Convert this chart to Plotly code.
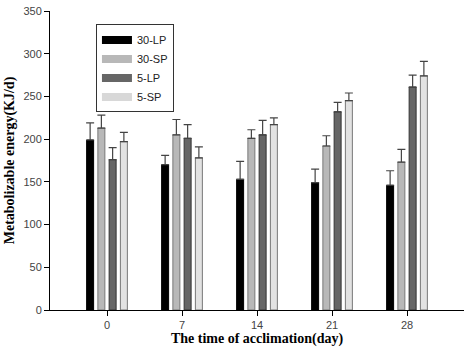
import plotly.graph_objects as go

days = ["0", "7", "14", "21", "28"]
series_names = ["30-LP", "30-SP", "5-LP", "5-SP"]
means = {
    "30-LP": [199, 170, 153, 149, 146],
    "30-SP": [213, 205, 201, 192, 173],
    "5-LP": [176, 201, 205, 232, 261],
    "5-SP": [197, 178, 217, 245, 274],
}
errors = {
    "30-LP": [20, 11, 21, 16, 17],
    "30-SP": [15, 18, 10, 12, 15],
    "5-LP": [14, 16, 17, 11, 14],
    "5-SP": [11, 13, 8, 9, 17],
}
colors = {"30-LP": "#000000", "30-SP": "#b8b8b8", "5-LP": "#666666", "5-SP": "#e2e2e2"}
outline = {"30-LP": "#000000", "30-SP": "#777777", "5-LP": "#333333", "5-SP": "#777777"}

fig = go.Figure()
for s in series_names:
    fig.add_trace(go.Bar(
        name=s, x=days, y=means[s], showlegend=False,
        marker=dict(color=colors[s], line=dict(color=outline[s], width=1)),
        error_y=dict(type="data", array=errors[s], arrayminus=[0]*5, symmetric=False,
                     color="#444444", thickness=1.2, width=4),
    ))
# legend swatches drawn as wide rectangles
for s in series_names:
    fig.add_trace(go.Scatter(
        name=s, x=[None], y=[None], mode="lines",
        line=dict(color=colors[s] if s != "5-SP" else "#d8d8d8", width=8),
        showlegend=True,
    ))

fig.update_layout(
    width=465, height=355,
    margin=dict(l=50, r=1, t=11, b=45, autoexpand=False),
    paper_bgcolor="white", plot_bgcolor="white",
    barmode="group", bargap=0.4, bargroupgap=0.38,
    font=dict(family="Liberation Sans, Arial", size=11, color="#444444"),
    showlegend=True,
    legend=dict(x=0.111, y=0.955, xanchor="left", yanchor="top",
                bgcolor="white", bordercolor="#333333", borderwidth=1,
                font=dict(family="Liberation Sans, Arial", size=11, color="#222222"),
                tracegroupgap=0, itemwidth=30),
    xaxis=dict(type="category", range=[-0.76, 4.76], showline=True, linecolor="black",
               linewidth=1, ticks="outside", ticklen=5, tickcolor="black",
               showgrid=False, zeroline=False, automargin=False,
               title=dict(text="The time of acclimation(day)", standoff=2,
                          font=dict(family="Liberation Serif, Times New Roman", size=14, color="black"))),
    yaxis=dict(range=[0, 350], dtick=50, showline=True, linecolor="black", linewidth=1,
               ticks="outside", ticklen=5, tickcolor="black", showgrid=False, zeroline=False,
               automargin=False,
               title=dict(text="Metabolizable energy(KJ/d)", standoff=5,
                          font=dict(family="Liberation Serif, Times New Roman", size=14, color="black"))),
)
fig.update_xaxes(title_font_weight="bold")
fig.update_yaxes(title_font_weight="bold")

fig.write_html("out.html", config={"displayModeBar": False},
               post_script="document.body.style.margin='0';")
